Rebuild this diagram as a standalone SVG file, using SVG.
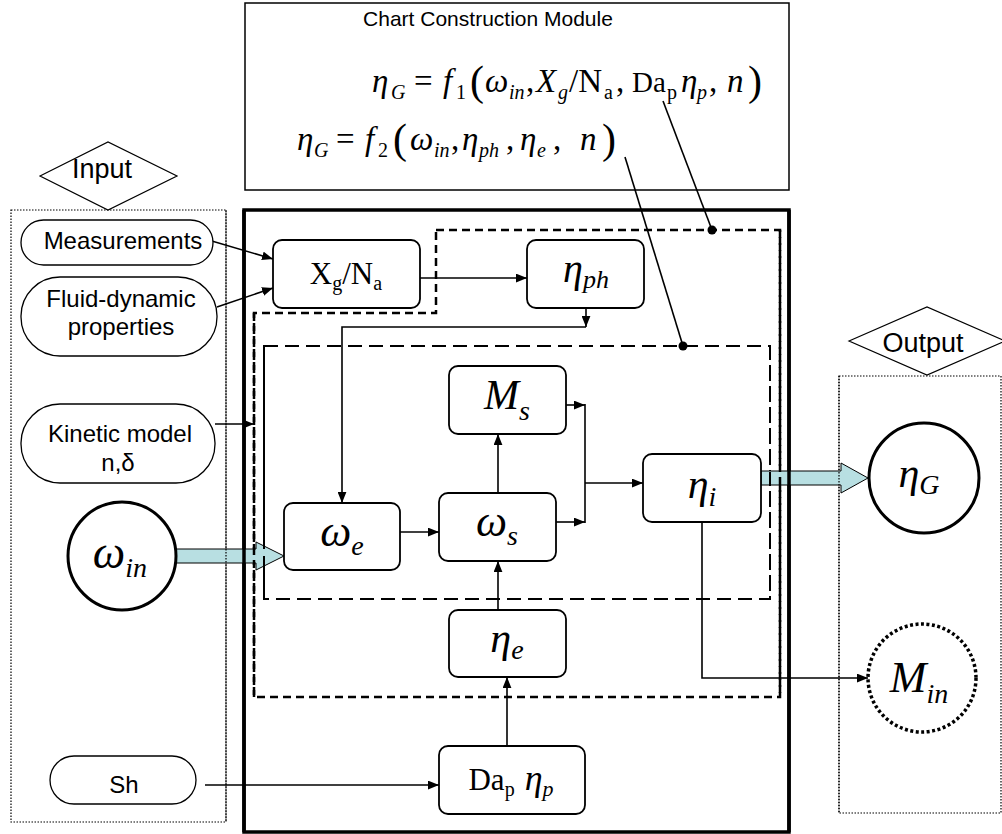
<svg xmlns="http://www.w3.org/2000/svg" width="1002" height="834" viewBox="0 0 1002 834">
<style>
.s{font-family:"Liberation Sans",Arial,sans-serif;fill:#000}
.m{font-family:"Liberation Serif","Times New Roman",serif;fill:#000}
.i{font-style:italic}
.box{fill:#fff;stroke:#000;stroke-width:1.8}
.pill{fill:#fff;stroke:#000;stroke-width:1.3}
.ln{fill:none;stroke:#000;stroke-width:1.6}
.dot{fill:none;stroke:#000;stroke-width:1.2;stroke-dasharray:1.5 1.5}
.big{fill:#b8dfe2;stroke:#000;stroke-width:1}
</style>
<defs>
<marker id="ah" viewBox="0 0 10 8" refX="10" refY="4" markerWidth="11" markerHeight="9" orient="auto" markerUnits="userSpaceOnUse"><path d="M0,0 L10,4 L0,8 z" fill="#000"/></marker>
</defs>
<rect width="1002" height="834" fill="#fff"/>

<g id="chart-module">
<rect x="245" y="3" width="544" height="187" fill="#fff" stroke="#000" stroke-width="1.5"/>
<text class="s" x="488" y="26" font-size="21" text-anchor="middle">Chart Construction Module</text>
<text class="m" font-size="33">
<tspan class="i" x="372" y="92">η</tspan><tspan class="i" x="391" y="99" font-size="20">G</tspan><tspan x="414" y="92">=</tspan><tspan class="i" x="443" y="92">f</tspan><tspan x="456" y="99" font-size="20">1</tspan><tspan x="470" y="95" font-size="42">(</tspan><tspan class="i" x="485" y="92">ω</tspan><tspan class="i" x="509" y="99" font-size="20">in</tspan><tspan x="526" y="92">,</tspan><tspan class="i" x="536" y="92">X</tspan><tspan class="i" x="558" y="99" font-size="20">g</tspan><tspan x="569" y="92">/N</tspan><tspan x="604" y="99" font-size="20">a</tspan><tspan x="616" y="92">,</tspan><tspan x="632" y="92" font-size="29">Da</tspan><tspan x="667" y="99" font-size="20">p</tspan><tspan class="i" x="681" y="92">η</tspan><tspan class="i" x="697" y="99" font-size="20">p</tspan><tspan x="709" y="92">,</tspan><tspan class="i" x="727" y="92">n</tspan><tspan x="748" y="95" font-size="42">)</tspan>
</text>
<text class="m" font-size="33">
<tspan class="i" x="297" y="150">η</tspan><tspan class="i" x="314" y="157" font-size="20">G</tspan><tspan x="336" y="150">=</tspan><tspan class="i" x="365" y="150">f</tspan><tspan x="378" y="157" font-size="20">2</tspan><tspan x="393" y="153" font-size="42">(</tspan><tspan class="i" x="410" y="150">ω</tspan><tspan class="i" x="434" y="157" font-size="20">in</tspan><tspan x="451" y="150">,</tspan><tspan class="i" x="462" y="150">η</tspan><tspan class="i" x="479" y="157" font-size="20">ph</tspan><tspan x="506" y="150">,</tspan><tspan class="i" x="520" y="150">η</tspan><tspan class="i" x="537" y="157" font-size="20">e</tspan><tspan x="553" y="150">,</tspan><tspan class="i" x="580" y="150">n</tspan><tspan x="602" y="153" font-size="42">)</tspan>
</text>
</g>

<g id="input-panel">
<rect x="11" y="210" width="215" height="612" class="dot"/>
<polygon points="40,176 108,142 177,176 108,210" fill="#fff" stroke="#000" stroke-width="1.2"/>
<text class="s" x="102" y="178" font-size="27" text-anchor="middle">Input</text>
</g>

<g id="output-panel">
<rect x="839" y="376" width="162" height="437" class="dot"/>
<polygon points="849,341 927,307 1005,341 927,375" fill="#fff" stroke="#000" stroke-width="1.2"/>
<text class="s" x="923" y="352" font-size="27" text-anchor="middle">Output</text>
</g>

<g id="main-module">
<rect x="244" y="210" width="545" height="622" fill="none" stroke="#000" stroke-width="3.5"/>
</g>

<g id="group-f1">
<path d="M436,230 H780 V697 H254 V313 H436 Z" fill="none" stroke="#000" stroke-width="2.5" stroke-dasharray="8 5"/>
</g>
<g id="group-f2">
<rect x="264" y="346" width="506" height="253" fill="none" stroke="#000" stroke-width="2" stroke-dasharray="14 7"/>
</g>

<g id="big-arrows">
<path class="big" d="M176,549 H256 V542 L284,556 L256,570 V563 H176 Z"/>
<path class="big" d="M761,471 H841 V463 L868,478 L841,493 V485 H761 Z"/>
</g>
<g id="overlay">
<line x1="244" y1="210" x2="244" y2="832" stroke="#000" stroke-width="3.5"/>
<line x1="789" y1="210" x2="789" y2="832" stroke="#000" stroke-width="3.5"/>
<line x1="226" y1="210" x2="226" y2="822" class="dot"/>
<line x1="839" y1="376" x2="839" y2="813" class="dot"/>
<line x1="254" y1="313" x2="254" y2="697" stroke="#000" stroke-width="2.5" stroke-dasharray="8 5"/>
<line x1="264" y1="346" x2="264" y2="599" stroke="#000" stroke-width="2" stroke-dasharray="14 7"/>
<line x1="770" y1="346" x2="770" y2="599" stroke="#000" stroke-width="2" stroke-dasharray="14 7"/>
<line x1="780" y1="230" x2="780" y2="697" stroke="#000" stroke-width="2.5" stroke-dasharray="8 5"/>
</g>

<g id="connectors">
<line class="ln" x1="663" y1="101" x2="712" y2="230"/>
<circle cx="712" cy="230" r="4.5" fill="#000"/>
<line class="ln" x1="625" y1="157" x2="683" y2="346"/>
<circle cx="683" cy="346" r="4.5" fill="#000"/>
<line class="ln" x1="205" y1="239" x2="273" y2="259" marker-end="url(#ah)"/>
<line class="ln" x1="217" y1="307" x2="273" y2="288" marker-end="url(#ah)"/>
<line class="ln" x1="215" y1="424" x2="254" y2="424" marker-end="url(#ah)"/>
<line class="ln" x1="420" y1="278" x2="527" y2="278" marker-end="url(#ah)"/>
<line class="ln" x1="586" y1="308" x2="586" y2="327" marker-end="url(#ah)"/>
<polyline class="ln" points="586,327 342,327 342,503" marker-end="url(#ah)"/>
<line class="ln" x1="400" y1="532" x2="439" y2="532" marker-end="url(#ah)"/>
<line class="ln" x1="498" y1="493" x2="498" y2="434" marker-end="url(#ah)"/>
<line class="ln" x1="498" y1="610" x2="498" y2="561" marker-end="url(#ah)"/>
<line class="ln" x1="507" y1="746" x2="507" y2="677" marker-end="url(#ah)"/>
<line class="ln" x1="205" y1="785" x2="439" y2="785" marker-end="url(#ah)"/>
<line class="ln" x1="566" y1="405" x2="585" y2="405" marker-end="url(#ah)"/>
<line class="ln" x1="556" y1="522" x2="585" y2="522" marker-end="url(#ah)"/>
<line class="ln" x1="585" y1="404" x2="585" y2="523"/>
<line class="ln" x1="585" y1="483" x2="643" y2="483" marker-end="url(#ah)"/>
<polyline class="ln" points="702,522 702,678 868,678" marker-end="url(#ah)"/>
</g>

<g id="measurements">
<rect class="pill" x="21" y="220" width="192" height="45" rx="22.5"/>
<text class="s" x="123" y="249" font-size="24" text-anchor="middle">Measurements</text>
</g>
<g id="fluid-dynamic">
<rect class="pill" x="21" y="277" width="196" height="79" rx="39"/>
<text class="s" x="121" y="307" font-size="24" text-anchor="middle">Fluid-dynamic</text>
<text class="s" x="121" y="335" font-size="24" text-anchor="middle">properties</text>
</g>
<g id="kinetic-model">
<rect class="pill" x="21" y="404" width="194" height="79" rx="39"/>
<text class="s" x="120" y="442" font-size="24" text-anchor="middle">Kinetic model</text>
<text class="s" x="118" y="471" font-size="24" text-anchor="middle">n,δ</text>
</g>
<g id="omega-in">
<circle cx="122" cy="556" r="54" fill="#fff" stroke="#000" stroke-width="3"/>
<text class="m i" x="120" y="568" font-size="46" text-anchor="middle">ω<tspan font-size="28" dy="9">in</tspan></text>
</g>
<g id="sh">
<rect class="pill" x="50" y="756" width="146" height="48" rx="24"/>
<text class="s" x="124" y="793" font-size="24" text-anchor="middle">Sh</text>
</g>

<g id="xg-na">
<rect class="box" x="273" y="240" width="147" height="68" rx="9"/>
<text class="m" x="346" y="284" font-size="31" text-anchor="middle">X<tspan font-size="20" dy="6">g</tspan><tspan dy="-6">/N</tspan><tspan font-size="20" dy="6">a</tspan></text>
</g>
<g id="eta-ph">
<rect class="box" x="527" y="240" width="117" height="68" rx="9"/>
<text class="m i" x="586" y="282" font-size="40" text-anchor="middle">η<tspan font-size="26" dy="6">ph</tspan></text>
</g>
<g id="m-s">
<rect class="box" x="449" y="366" width="117" height="68" rx="9"/>
<text class="m i" x="507" y="409" font-size="42" text-anchor="middle">M<tspan font-size="28" dy="11">s</tspan></text>
</g>
<g id="omega-e">
<rect class="box" x="284" y="503" width="116" height="67" rx="9"/>
<text class="m i" x="342" y="546" font-size="44" text-anchor="middle">ω<tspan font-size="28" dy="9">e</tspan></text>
</g>
<g id="omega-s">
<rect class="box" x="439" y="493" width="117" height="68" rx="9"/>
<text class="m i" x="497" y="536" font-size="44" text-anchor="middle">ω<tspan font-size="28" dy="9">s</tspan></text>
</g>
<g id="eta-i">
<rect class="box" x="643" y="454" width="118" height="68" rx="9"/>
<text class="m i" x="702" y="498" font-size="42" text-anchor="middle">η<tspan font-size="28" dy="8">i</tspan></text>
</g>
<g id="eta-e">
<rect class="box" x="449" y="610" width="117" height="67" rx="9"/>
<text class="m i" x="507" y="652" font-size="42" text-anchor="middle">η<tspan font-size="28" dy="7">e</tspan></text>
</g>
<g id="da-eta-p">
<rect class="box" x="439" y="746" width="146" height="68" rx="9"/>
<text class="m" x="511" y="790" font-size="31" text-anchor="middle">Da<tspan font-size="20" dy="6">p</tspan><tspan class="i" font-size="36" dx="10" dy="-6">η</tspan><tspan class="i" font-size="22" dy="6">p</tspan></text>
</g>

<g id="eta-g">
<circle cx="924" cy="478" r="55" fill="#fff" stroke="#000" stroke-width="3"/>
<text class="m i" x="919" y="487" font-size="42" text-anchor="middle">η<tspan font-size="28" dy="7">G</tspan></text>
</g>
<g id="m-in">
<circle cx="922" cy="678" r="54" fill="#fff" stroke="#000" stroke-width="3.5" stroke-dasharray="3 2.5"/>
<text class="m i" x="919" y="692" font-size="44" text-anchor="middle">M<tspan font-size="28" dy="11">in</tspan></text>
</g>
</svg>
